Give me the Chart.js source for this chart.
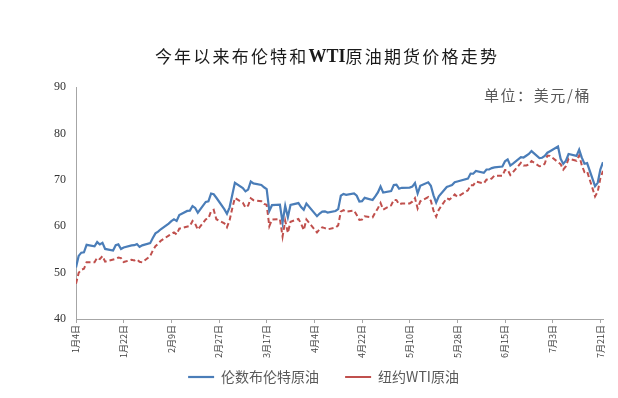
<!DOCTYPE html>
<html>
<head>
<meta charset="utf-8">
<script src="https://cdn.jsdelivr.net/npm/chart.js@4/dist/chart.umd.min.js"></script>
<style>
  html, body { margin: 0; padding: 0; background: #ffffff; }
  #wrap { position: relative; width: 618px; height: 398px; }
</style>
</head>
<body>
<div id="wrap"><canvas id="c" width="618" height="398"></canvas></div>
<script>
// ---- data (2021 trading days) ----
const year = 2021;
const dates = [
  "1/4","1/5","1/6","1/7","1/8","1/11","1/12","1/13","1/14","1/15","1/18","1/19","1/20","1/21","1/22","1/25","1/26","1/27","1/28","1/29",
  "2/1","2/2","2/3","2/4","2/5","2/8","2/9","2/10","2/11","2/12","2/15","2/16","2/17","2/18","2/19","2/22","2/23","2/24","2/25","2/26",
  "3/1","3/2","3/3","3/4","3/5","3/8","3/9","3/10","3/11","3/12","3/15","3/16","3/17","3/18","3/19","3/22","3/23","3/24","3/25","3/26","3/29","3/30","3/31",
  "4/1","4/5","4/6","4/7","4/8","4/9","4/12","4/13","4/14","4/15","4/16","4/19","4/20","4/21","4/22","4/23","4/26","4/27","4/28","4/29","4/30",
  "5/3","5/4","5/5","5/6","5/7","5/10","5/11","5/12","5/13","5/14","5/17","5/18","5/19","5/20","5/21","5/24","5/25","5/26","5/27","5/28",
  "6/1","6/2","6/3","6/4","6/7","6/8","6/9","6/10","6/11","6/14","6/15","6/16","6/17","6/18","6/21","6/22","6/23","6/24","6/25","6/28","6/29","6/30",
  "7/1","7/2","7/5","7/6","7/7","7/8","7/9","7/12","7/13","7/14","7/15","7/16","7/19","7/20","7/21","7/22"
];
const brent = [
  51.09,53.60,54.30,54.38,55.99,55.66,56.58,56.06,56.42,55.10,54.75,55.90,56.08,55.10,55.41,55.88,55.91,56.14,55.53,55.88,
  56.35,57.46,58.46,58.84,59.34,60.56,61.09,61.47,61.14,62.43,63.30,63.35,64.34,63.93,62.91,65.24,65.37,67.04,66.88,66.13,
  63.69,62.70,64.07,66.74,69.36,68.24,67.52,67.90,69.63,69.22,68.88,68.39,68.00,63.28,64.53,64.62,60.79,64.41,61.95,64.57,64.98,64.14,63.54,
  64.86,62.15,62.74,63.16,63.20,62.95,63.28,63.67,66.58,66.94,66.77,67.05,66.57,65.32,65.40,66.11,65.65,66.42,67.27,68.56,67.25,
  67.56,68.88,68.96,68.09,68.28,68.32,68.55,69.32,67.05,68.71,69.46,68.71,66.66,65.11,66.44,68.46,68.65,68.87,69.46,69.63,
  70.25,71.35,71.31,71.89,71.49,72.22,72.22,72.52,72.69,72.86,73.99,74.39,73.08,73.51,74.90,74.81,75.19,75.56,76.18,74.68,74.76,75.13,
  75.84,76.17,77.16,74.53,73.43,74.12,75.55,75.16,76.49,74.76,73.47,73.59,68.62,69.35,72.23,73.79
];
const wti = [
  47.62,49.93,50.63,50.83,52.24,52.25,53.21,52.91,53.57,52.36,null,52.98,53.24,53.13,52.27,52.77,52.61,52.85,52.34,52.20,
  53.55,54.76,55.69,56.23,56.85,57.97,58.36,58.68,58.24,59.47,null,60.05,61.14,60.52,59.24,61.49,61.67,63.22,63.53,61.50,
  60.64,59.75,61.28,63.83,66.09,65.05,64.01,64.44,66.02,65.61,65.39,64.80,64.60,60.00,61.42,61.55,57.76,61.18,58.56,60.97,61.56,60.55,59.16,
  61.45,58.65,59.33,59.77,59.60,59.32,59.70,60.18,63.15,63.46,63.13,63.38,62.44,61.35,61.43,62.14,61.91,62.94,63.86,65.01,63.58,
  64.49,65.69,65.63,64.71,64.90,64.92,65.28,66.08,63.82,65.37,66.27,65.49,63.36,62.05,63.58,66.05,65.76,66.21,66.85,66.32,
  67.72,68.83,68.81,69.62,69.23,70.05,69.96,70.29,70.91,70.88,72.12,72.15,71.04,71.64,73.66,73.06,73.08,73.30,74.05,72.91,72.98,73.47,
  75.23,75.16,null,73.37,72.20,72.94,74.56,74.10,75.25,73.13,71.65,71.81,66.42,67.42,70.30,71.91
];
const seriesNames = ["伦数布伦特原油", "纽约WTI原油"];
const titleParts = ["今年以来布伦特和", "WTI", "原油期货价格走势"];
const unitLabel = "单位：美元/桶";
const yTicks = [40, 50, 60, 70, 80, 90];
const tickStepDays = 18;

// ---- helpers ----
function dayIndex(md) {
  const [m, d] = md.split("/").map(Number);
  return Math.round((Date.UTC(year, m - 1, d) - Date.UTC(year, 0, 4)) / 86400000);
}
function dayLabel(offset) {
  const t = new Date(Date.UTC(year, 0, 4) + offset * 86400000);
  return (t.getUTCMonth() + 1) + "月" + t.getUTCDate() + "日";
}
const xs = dates.map(dayIndex);
const lastDay = xs[xs.length - 1];

const cjk = "'Noto Sans CJK SC', 'Noto Sans', sans-serif";
const AXIS_SHRINK = 16;

const titlePlugin = {
  id: "titleAndUnit",
  afterLayout(chart) {
    // let the (shrunk) x-axis labels draw past the axis box
    chart.scales.x.bottom += AXIS_SHRINK;
  },
  afterDraw(chart) {
    const ctx = chart.ctx;
    ctx.save();
    ctx.textBaseline = "middle";
    ctx.fillStyle = "#1a1a1a";
    const fonts = [
      "normal 17px " + cjk,
      "bold 18px 'Liberation Serif', serif",
      "normal 17px " + cjk
    ];
    const spacing = [2.2, 0, 2.2];
    let widths = titleParts.map((s, i) => {
      ctx.font = fonts[i];
      ctx.letterSpacing = spacing[i] + "px";
      return ctx.measureText(s).width;
    });
    const total = widths.reduce((a, b) => a + b, 0);
    let x = 327 - total / 2;
    ctx.textAlign = "left";
    titleParts.forEach((s, i) => {
      ctx.font = fonts[i];
      ctx.letterSpacing = spacing[i] + "px";
      ctx.fillText(s, x, 57);
      x += widths[i];
    });
    ctx.font = "normal 15px " + cjk;
    ctx.letterSpacing = "1.6px";
    ctx.fillStyle = "#595959";
    ctx.textAlign = "right";
    ctx.fillText(unitLabel, 591, 95);
    ctx.restore();
  }
};

new Chart(document.getElementById("c"), {
  type: "line",
  data: {
    datasets: [
      {
        label: seriesNames[0],
        data: xs.map((x, i) => ({ x: x, y: brent[i] })),
        borderColor: "#4a7db8",
        backgroundColor: "#4a7db8",
        borderWidth: 2.2,
        pointRadius: 0,
        tension: 0,
        spanGaps: true
      },
      {
        label: seriesNames[1],
        data: xs.map((x, i) => ({ x: x, y: wti[i] })),
        borderColor: "#c0504d",
        backgroundColor: "#c0504d",
        borderWidth: 2,
        borderDash: [5, 3],
        pointRadius: 0,
        tension: 0,
        spanGaps: true
      }
    ]
  },
  options: {
    responsive: false,
    animation: false,
    events: [],
    layout: { padding: { left: 44, right: 15, top: 87, bottom: 4 } },
    plugins: {
      title: { display: false },
      tooltip: { enabled: false },
      legend: {
        display: true,
        position: "bottom",
        labels: {
          usePointStyle: true,
          pointStyle: "line",
          pointStyleWidth: 26,
          boxHeight: 14,
          padding: 26,
          color: "#595959",
          font: { family: cjk, size: 14 }
        }
      }
    },
    scales: {
      x: {
        type: "linear",
        min: 0,
        max: lastDay,
        afterFit: (axis) => { axis.height = axis.height - AXIS_SHRINK; },
        grid: { display: true, drawOnChartArea: false, drawTicks: true, tickLength: 4, color: "#a6a6a6" },
        border: { display: true, color: "#a6a6a6", width: 1 },
        ticks: {
          stepSize: tickStepDays,
          includeBounds: false,
          autoSkip: false,
          minRotation: 90,
          maxRotation: 90,
          padding: 2,
          color: "#404040",
          font: { family: cjk, size: 9 },
          callback: (v) => dayLabel(v)
        }
      },
      y: {
        min: yTicks[0],
        max: yTicks[yTicks.length - 1],
        grid: { display: false, drawTicks: false },
        border: { display: true, color: "#a6a6a6", width: 1 },
        afterBuildTicks: (axis) => { axis.ticks = yTicks.map(v => ({ value: v })); },
        ticks: {
          padding: 10,
          color: "#333333",
          font: { family: "'Liberation Serif', serif", size: 12 }
        }
      }
    }
  },
  plugins: [titlePlugin]
});
</script>
</body>
</html>
